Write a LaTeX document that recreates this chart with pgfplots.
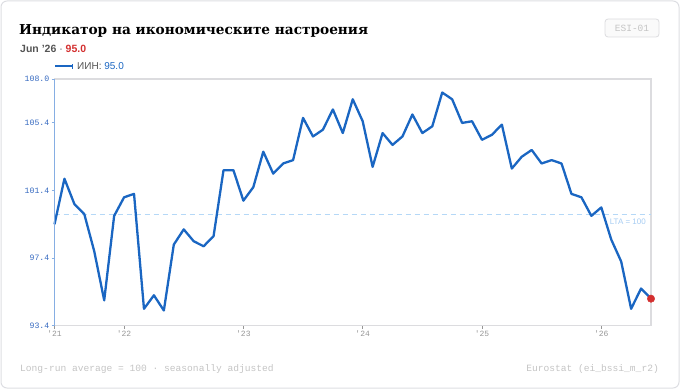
\documentclass[border=0pt]{standalone}
\usepackage{pgfplots}
\pgfplotsset{compat=1.18}
\usepackage{pgfplotstable}
\usepackage{fontspec}
\setmainfont{Liberation Sans}
\newfontfamily\monofont{Liberation Mono}
\newfontfamily\titlefont{DejaVu Serif}
\definecolor{linebl}{HTML}{1A66C2}
\definecolor{axbl}{HTML}{86AEE3}
\definecolor{tickbl}{HTML}{3569C0}
\definecolor{framegray}{HTML}{DCDCDF}
\definecolor{xgray}{HTML}{969696}
\definecolor{ltabl}{HTML}{B5D8F7}
\definecolor{ltatext}{HTML}{A6CCF2}
\definecolor{dotred}{HTML}{D32F2F}
\definecolor{subgray}{HTML}{555555}
\definecolor{foot}{HTML}{C4C4C4}
\definecolor{cardb}{HTML}{DDDEE2}

\pgfplotstableread{
idx val
0 99.4
1 102.1
2 100.6
3 100.0
4 97.8
5 94.9
6 99.9
7 101.0
8 101.2
9 94.4
10 95.2
11 94.3
12 98.2
13 99.1
14 98.4
15 98.1
16 98.7
17 102.6
18 102.6
19 100.8
20 101.6
21 103.7
22 102.4
23 103.0
24 103.2
25 105.7
26 104.6
27 105.0
28 106.2
29 104.8
30 106.8
31 105.5
32 102.8
33 104.8
34 104.1
35 104.6
36 105.9
37 104.8
38 105.2
39 107.2
40 106.8
41 105.4
42 105.5
43 104.4
44 104.7
45 105.3
46 102.7
47 103.4
48 103.8
49 103.0
50 103.2
51 103.0
52 101.2
53 101.0
54 99.9
55 100.4
56 98.5
57 97.2
58 94.4
59 95.6
60 95.0
}\esidata

\begin{document}
\begin{tikzpicture}
\path[use as bounding box] (0pt,0pt) rectangle (680pt,389pt);
\draw[cardb, line width=1pt, rounded corners=6pt] (1pt,1pt) rectangle (679pt,388pt);
% title
\node[anchor=base west, inner sep=0pt] at (19pt,354.5pt)
  {\resizebox{349pt}{!}{\titlefont\bfseries\fontsize{16}{18}\selectfont Индикатор на икономическите настроения}};
\node[anchor=base west, inner sep=0pt, text=subgray] at (20pt,336.7pt)
  {\fontsize{10.5}{12}\selectfont\bfseries Jun '26 {\mdseries·} \textcolor{dotred}{95.0}};
% badge
\draw[framegray, fill=gray!4, rounded corners=3pt, line width=0.8pt] (605pt,352pt) rectangle (659pt,370pt);
\node[text=foot, inner sep=0pt] at (632pt,361pt) {\monofont\fontsize{9.5}{10}\selectfont ESI-01};
% legend
\draw[linebl, line width=2.4pt] (55pt,322.7pt) -- (72.5pt,322.7pt);
\draw[linebl, line width=1.2pt] (72.5pt,320pt) -- (72.5pt,325.4pt);
\node[anchor=base west, inner sep=0pt] at (77pt,319.7pt)
  {\fontsize{10}{12}\selectfont\textcolor{subgray}{ИИН:} \textcolor{linebl}{95.0}};
% footer
\node[anchor=base west, inner sep=0pt, text=foot] at (20pt,18pt)
  {\monofont\fontsize{9.6}{11}\selectfont Long-run average = 100 · seasonally adjusted};
\node[anchor=base east, inner sep=0pt, text=foot] at (659pt,18pt)
  {\monofont\fontsize{9.6}{11}\selectfont Eurostat (ei\_bssi\_m\_r2)};
\begin{axis}[
  at={(54.5pt,63.3pt)}, anchor=south west,
  scale only axis, width=596.5pt, height=246.7pt,
  xmin=0, xmax=60, ymin=93.4, ymax=108,
  clip=false,
  axis line style={framegray, line width=1.4pt},
  tick pos=left, tick align=outside, major tick length=3pt,
  xtick={0,7,19,31,43,55},
  xticklabels={'21,'22,'23,'24,'25,'26},
  ytick={93.4,97.4,101.4,105.4,108.0},
  yticklabels={93.4,97.4,101.4,105.4,108.0},
  x tick style={xgray, line width=0.8pt},
  y tick style={axbl, line width=1pt},
  xticklabel style={font=\monofont\fontsize{8}{9}\selectfont, text=xgray, inner sep=1pt, yshift=-1pt},
  yticklabel style={font=\monofont\fontsize{8.2}{9}\selectfont, text=tickbl, inner sep=1pt, xshift=-1pt},
]
\addplot[ltabl, line width=1.2pt, dash pattern=on 5pt off 4pt] coordinates {(0,100) (60,100)};
\addplot[linebl, line width=2.3pt, line join=round] table[x=idx, y=val] {\esidata};
\addplot[only marks, mark=*, mark size=3.7pt, dotred, mark options={draw=dotred, fill=dotred}] coordinates {(60,95.0)};
\draw[axbl, line width=1.6pt] (rel axis cs:0,0) -- (rel axis cs:0,1);
\node[anchor=north east, inner sep=0pt, text=ltatext, font=\fontsize{8}{9}\selectfont] at (axis cs:59.5,99.75) {LTA = 100};
\end{axis}
\end{tikzpicture}
\end{document}
